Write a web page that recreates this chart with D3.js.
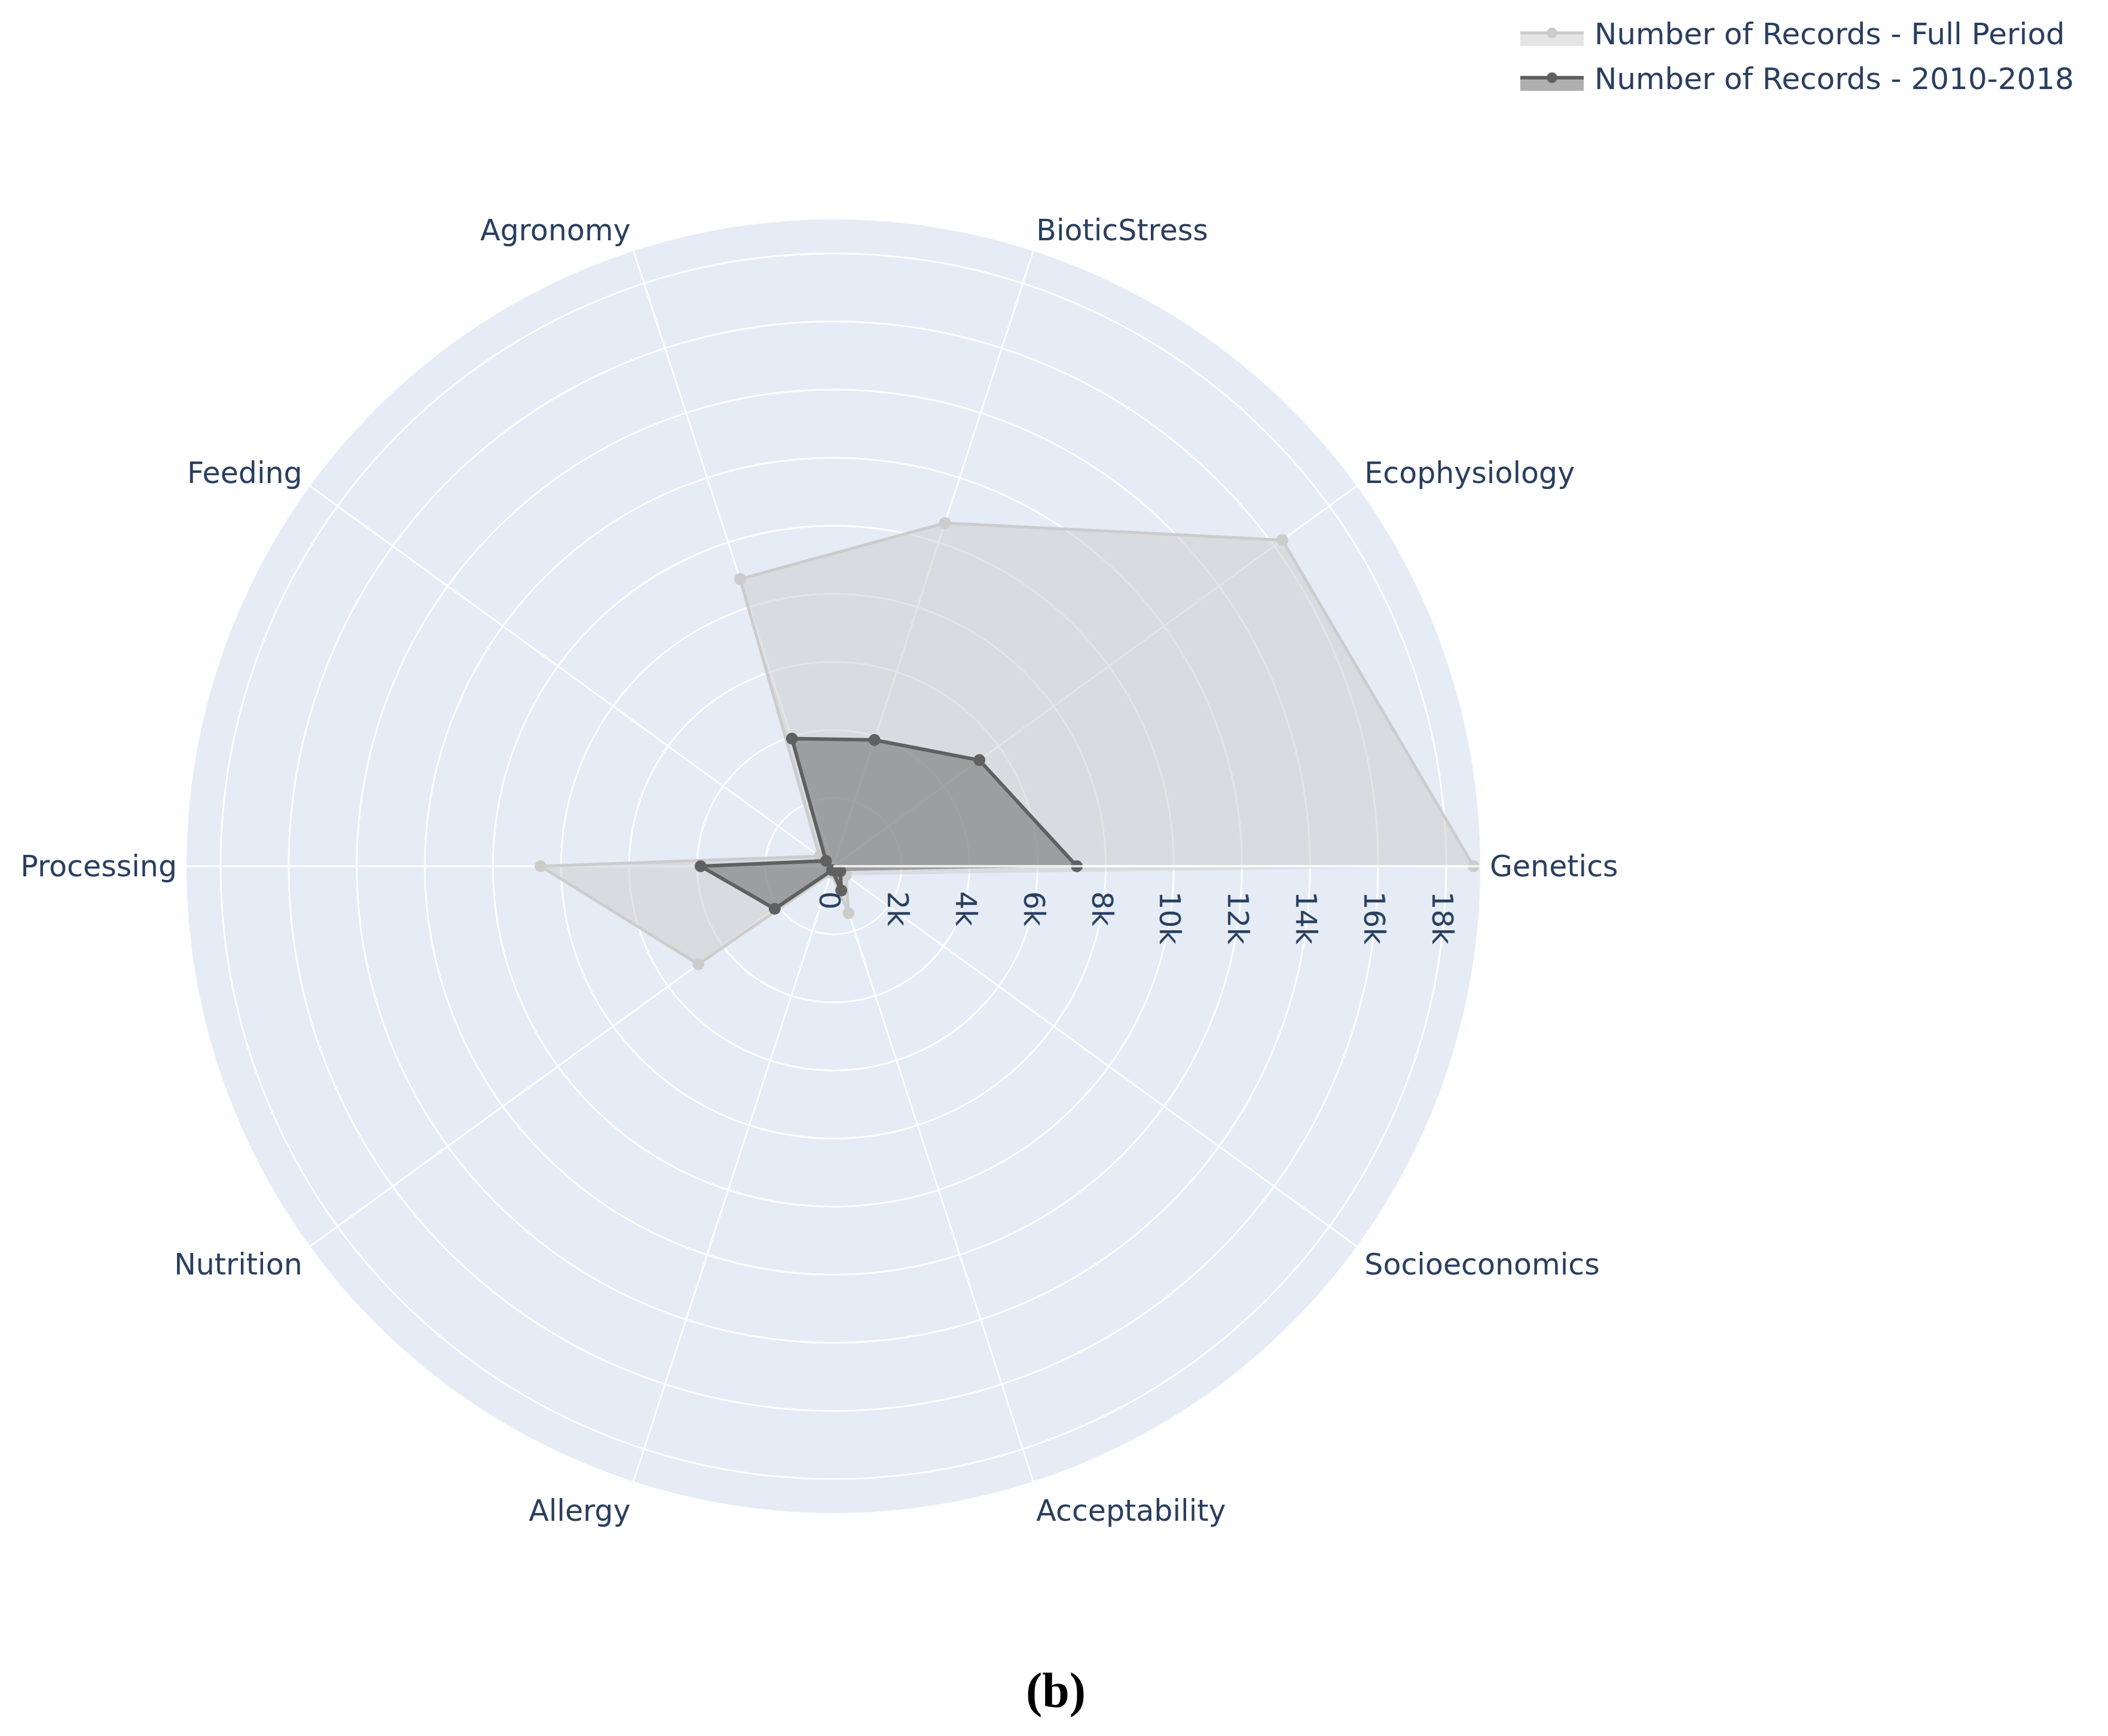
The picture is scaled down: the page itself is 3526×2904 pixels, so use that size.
<!DOCTYPE html>
<html>
<head>
<meta charset="utf-8">
<script src="https://cdn.jsdelivr.net/npm/d3@7"></script>
<style>
  body { margin: 0; background: #ffffff; }
  svg { display: block; }
</style>
</head>
<body>
<div id="mainCanvas"></div>
<script>
// data
var categories = ["Genetics", "Ecophysiology", "BioticStress", "Agronomy", "Feeding",
                  "Processing", "Nutrition", "Allergy", "Acceptability", "Socioeconomics"];
var fullPeriod = [18800, 16300, 10600, 8870, 500, 8600, 4900, 200, 1450, 450];
var period2010 = [7150, 5300, 3900, 3940, 270, 3900, 2130, 120, 750, 250];
var radialTicks = [0, 2000, 4000, 6000, 8000, 10000, 12000, 14000, 16000, 18000];
var tickLabels = ["0", "2k", "4k", "6k", "8k", "10k", "12k", "14k", "16k", "18k"];
var seriesNames = ["Number of Records - Full Period", "Number of Records - 2010-2018"];

var W = 3526, H = 2904;
var cx = 1394, cy = 1449, R = 1082;
var textColor = "#2a3f5f";
var fontFam = "'DejaVu Sans', Verdana, sans-serif";

var svg = d3.select("#mainCanvas").append("svg")
        .attr("width", W)
        .attr("height", H);

var r = d3.scaleLinear().domain([0, 19000]).range([0, R]);
var ang = d3.scalePoint()
        .domain(categories)
        .range([0, 2 * Math.PI * (categories.length - 1) / categories.length]);

function px(cat, v){ return cx + r(v) * Math.cos(ang(cat)); }
function py(cat, v){ return cy - r(v) * Math.sin(ang(cat)); }

var polar = svg.append("g");

// background disk
polar.append("circle")
        .attr("cx", cx).attr("cy", cy).attr("r", R)
        .style("fill", "#E5ECF6");

// rings
polar.selectAll("circle.ring")
        .data(radialTicks.filter(function(d){ return d > 0; }))
        .enter().append("circle")
        .attr("class", "ring")
        .attr("cx", cx).attr("cy", cy)
        .attr("r", function(d){ return r(d); })
        .style("fill", "none")
        .style("stroke", "#ffffff")
        .style("stroke-width", 3);

// spokes
polar.selectAll("line.spoke")
        .data(categories)
        .enter().append("line")
        .attr("class", "spoke")
        .attr("x1", cx).attr("y1", cy)
        .attr("x2", function(d){ return cx + R * Math.cos(ang(d)); })
        .attr("y2", function(d){ return cy - R * Math.sin(ang(d)); })
        .style("stroke", "#ffffff")
        .style("stroke-width", 3);

var series = [
  {name: seriesNames[0], values: fullPeriod, line: "rgb(204,204,204)", fill: "rgba(204,204,204,0.5)", lw: 5},
  {name: seriesNames[1], values: period2010, line: "rgb(96,96,96)", fill: "rgba(96,96,96,0.5)", lw: 6}
];

var lineGen = d3.line()
        .x(function(d){ return px(d.cat, d.v); })
        .y(function(d){ return py(d.cat, d.v); });

series.forEach(function(s){
  var pts = categories.map(function(c, i){ return {cat: c, v: s.values[i]}; });
  var g = svg.append("g");
  g.append("path")
        .attr("d", lineGen(pts) + "Z")
        .style("fill", s.fill)
        .style("stroke", "none");
  // trace line is not closed (fill closes on its own)
  g.append("path")
        .attr("d", lineGen(pts))
        .style("fill", "none")
        .style("stroke", s.line)
        .style("stroke-width", s.lw)
        .style("stroke-linejoin", "round");
  g.selectAll("circle")
        .data(pts)
        .enter().append("circle")
        .attr("cx", function(d){ return px(d.cat, d.v); })
        .attr("cy", function(d){ return py(d.cat, d.v); })
        .attr("r", 10)
        .style("fill", s.line);
});

// radial axis line above traces
svg.append("line")
        .attr("x1", cx).attr("y1", cy)
        .attr("x2", cx + R).attr("y2", cy)
        .style("stroke", "#ffffff")
        .style("stroke-opacity", 0.8)
        .style("stroke-width", 4);

// radial tick labels (rotated)
svg.selectAll("text.rtick")
        .data(radialTicks)
        .enter().append("text")
        .attr("class", "rtick")
        .attr("transform", function(d){ return "translate(" + (cx + r(d) - 6) + "," + (cy + 42) + ") rotate(90)"; })
        .attr("text-anchor", "start")
        .attr("dominant-baseline", "central")
        .style("font-family", fontFam)
        .style("font-size", "48px")
        .style("fill", textColor)
        .text(function(d, i){ return tickLabels[i]; });

// angular labels
var pad = 16;
svg.selectAll("text.cat")
        .data(categories)
        .enter().append("text")
        .attr("class", "cat")
        .attr("x", function(d){ return cx + (R + pad) * Math.cos(ang(d)); })
        .attr("y", function(d){
          var s = Math.sin(ang(d));
          return cy - (R + pad) * s - s * (s > 0 ? 20 : 36);
        })
        .attr("text-anchor", function(d){
          var c = Math.cos(ang(d));
          return Math.abs(c) < 0.05 ? "middle" : (c > 0 ? "start" : "end");
        })
        .attr("dominant-baseline", "central")
        .style("font-family", fontFam)
        .style("font-size", "49px")
        .style("fill", textColor)
        .text(function(d){ return d; });

// legend
var legend = svg.append("g").attr("transform", "translate(2543,0)");
var legY = [55, 130];
series.forEach(function(s, i){
  var it = legend.append("g").attr("transform", "translate(0," + legY[i] + ")");
  it.append("rect")
        .attr("x", 0).attr("y", -2)
        .attr("width", 106).attr("height", 24)
        .style("fill", s.fill);
  it.append("line")
        .attr("x1", 0).attr("x2", 106)
        .attr("y1", 0).attr("y2", 0)
        .style("stroke", s.line)
        .style("stroke-width", s.lw);
  it.append("circle")
        .attr("cx", 53).attr("cy", 0).attr("r", 9)
        .style("fill", s.line);
  it.append("text")
        .attr("x", 124).attr("y", 19)
        .style("font-family", fontFam)
        .style("font-size", "50px")
        .style("fill", textColor)
        .text(s.name);
});

// panel label
svg.append("text")
        .attr("x", 1766).attr("y", 2855)
        .attr("text-anchor", "middle")
        .style("font-family", "'Liberation Serif', 'Times New Roman', serif")
        .style("font-size", "82px")
        .style("font-weight", "bold")
        .style("fill", "#000000")
        .text("(b)");
</script>
</body>
</html>
